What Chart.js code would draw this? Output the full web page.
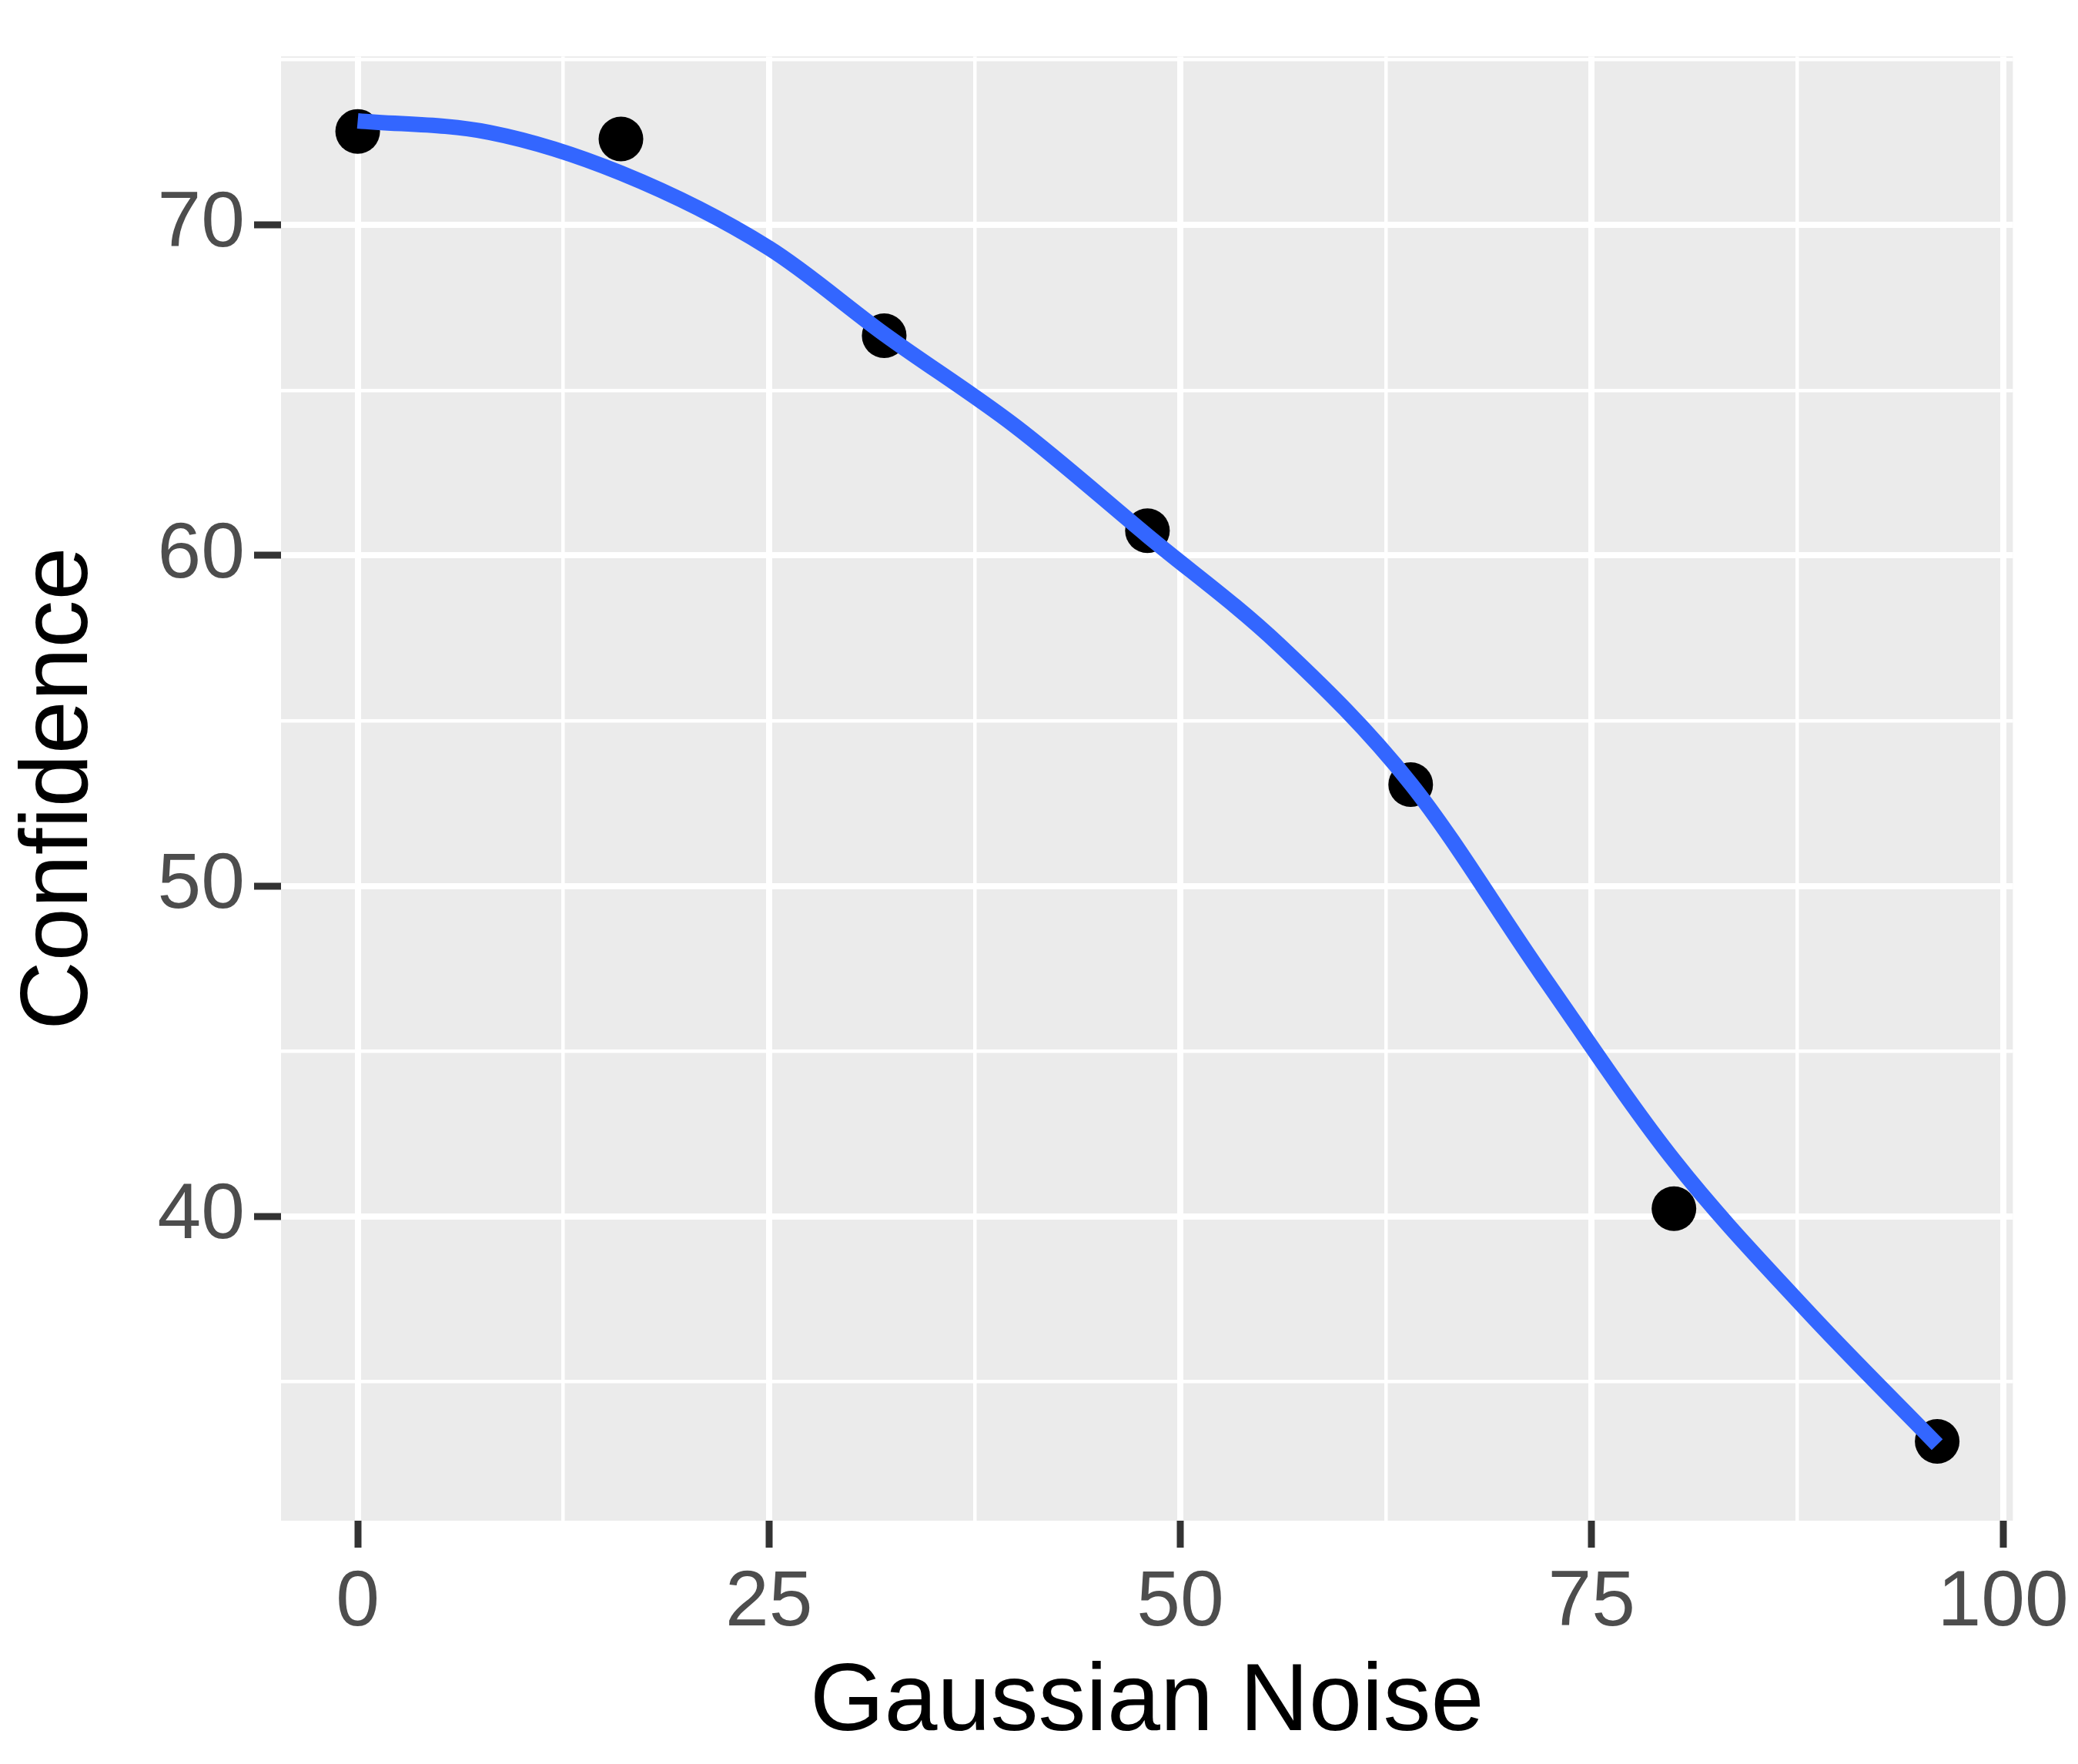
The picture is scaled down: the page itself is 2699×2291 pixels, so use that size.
<!DOCTYPE html>
<html><head><meta charset="utf-8">
<script src="https://cdn.jsdelivr.net/npm/chart.js@4"></script>
<style>html,body{margin:0;padding:0;background:#fff}</style>
</head><body>
<canvas id="c" width="2699" height="2291" style="width:2699px;height:2291px"></canvas>
<script>
const noiseX = [0, 16, 32, 48, 64, 80, 96];
const confidence = [72.83, 72.6, 66.65, 60.75, 53.07, 40.24, 33.2];
const smoothX = [0, 8, 16, 25, 32, 40, 48, 56, 64, 72, 80, 88, 96];
const smoothY = [73.15, 72.8, 71.57, 69.3, 66.7, 63.9, 60.6, 57.3, 53.1, 47.3, 41.7, 37.2, 33.1];
const xTicks = [0, 12.5, 25, 37.5, 50, 62.5, 75, 87.5, 100];
const yTicks = [35, 40, 45, 50, 55, 60, 65, 70, 75];

const bg = {
  id: 'bg',
  beforeDraw(chart) {
    const a = chart.chartArea, ctx = chart.ctx;
    ctx.save(); ctx.fillStyle = '#EBEBEB';
    ctx.fillRect(a.left, a.top, a.right - a.left, a.bottom - a.top);
    ctx.restore();
  }
};
const majX = v => v % 25 === 0;
const majY = v => v % 10 === 0;

new Chart(document.getElementById('c'), {
  type: 'scatter',
  data: {
    datasets: [
      { type: 'line', data: smoothX.map((x, i) => ({x, y: smoothY[i]})), borderColor: '#3366FF',
        borderWidth: 20, pointRadius: 0, cubicInterpolationMode: 'monotone', order: 1 },
      { data: noiseX.map((x, i) => ({x, y: confidence[i]})), backgroundColor: '#000', borderWidth: 0,
        pointRadius: 29, order: 2 }
    ]
  },
  options: {
    responsive: false, animation: false, devicePixelRatio: 1,
    layout: { padding: { top: 10, right: 56, left: 0, bottom: 0 } },
    plugins: { legend: { display: false }, tooltip: { enabled: false } },
    scales: {
      x: {
        min: -4.66, max: 100.6,
        afterBuildTicks: s => { s.ticks = xTicks.map(v => ({value: v})); },
        afterFit: s => { s.height = 316; },
        border: { display: false },
        grid: {
          color: '#fff',
          lineWidth: c => majX(c.tick.value) ? 8 : 4.5,
          tickColor: c => majX(c.tick.value) ? '#333' : 'rgba(0,0,0,0)',
          tickLength: 35, tickWidth: 9
        },
        ticks: { color: '#4D4D4D', font: { family: 'Liberation Sans', size: 102 }, padding: 12,
          maxRotation: 0, autoSkip: false,
          callback: v => majX(v) ? String(v) : '' },
        title: { display: true, text: 'Gaussian Noise', color: '#000',
          font: { family: 'Liberation Sans', size: 124 }, padding: { top: 0 } }
      },
      y: {
        min: 30.8, max: 75.1,
        afterBuildTicks: s => { s.ticks = yTicks.map(v => ({value: v})); },
        afterFit: s => { s.width = 365; },
        border: { display: false },
        grid: {
          color: '#fff',
          lineWidth: c => majY(c.tick.value) ? 8 : 4.5,
          tickColor: c => majY(c.tick.value) ? '#333' : 'rgba(0,0,0,0)',
          tickLength: 35, tickWidth: 9
        },
        ticks: { color: '#4D4D4D', font: { family: 'Liberation Sans', size: 102 }, padding: 12,
          autoSkip: false, callback: v => majY(v) ? String(v) : '' },
        title: { display: true, text: 'Confidence', color: '#000',
          font: { family: 'Liberation Sans', size: 124 }, padding: { bottom: 10 } }
      }
    }
  },
  plugins: [bg]
});
</script>
</body></html>
